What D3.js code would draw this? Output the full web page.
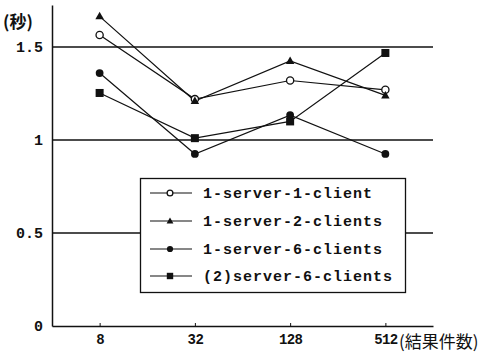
<!DOCTYPE html>
<html>
<head>
<meta charset="utf-8">
<script src="https://cdn.jsdelivr.net/npm/d3@7/dist/d3.min.js"></script>
<style>
  html, body { margin: 0; padding: 0; background: #fff; }
  svg { display: block; }
</style>
</head>
<body>
<div id="chart"></div>
<script>
// ---- data ----
const categories = ["8", "32", "128", "512"];
const seriesNames = ["1-server-1-client", "1-server-2-clients", "1-server-6-clients", "(2)server-6-clients"];
const seriesMarkers = ["openCircle", "triangle", "circle", "square"];
const s1 = [1.565, 1.22, 1.32, 1.27];
const s2 = [1.665, 1.21, 1.425, 1.24];
const s3 = [1.36, 0.925, 1.134, 0.925];
const s4 = [1.253, 1.01, 1.10, 1.468];
const seriesValues = [s1, s2, s3, s4];
const yTicks = [0, 0.5, 1, 1.5];
const yTickLabels = ["0", "0.5", "1", "1.5"];
const gridValues = [0.5, 1, 1.5];
const yUnit = "(秒)";
const xUnit = "(結果件数)";

// ---- layout ----
const W = 498, H = 357;
const svg = d3.select("#chart").append("svg").attr("width", W).attr("height", H);
const x = d3.scalePoint().domain(categories).range([52, 433]).padding(0.5);
const y = d3.scaleLinear().domain([0, 1.726]).range([326, 5]);
const mono = "'Liberation Mono', 'DejaVu Sans Mono', monospace";
const cjk = "'Noto Sans CJK JP', 'Noto Sans CJK SC', sans-serif";

// grid lines
svg.append("g").selectAll("line").data(gridValues).join("line")
  .attr("x1", 52).attr("x2", 433)
  .attr("y1", d => y(d)).attr("y2", d => y(d))
  .attr("stroke", "#111").attr("stroke-width", 1.4);

// y axis
const yAxis = d3.axisLeft(y).tickValues(yTicks).tickSize(0).tickPadding(9)
  .tickFormat((d, i) => yTickLabels[i]);
const gy = svg.append("g").attr("transform", "translate(52,0)").call(yAxis);
gy.select(".domain").attr("stroke", "#111").attr("stroke-width", 1.5);
gy.selectAll("text").attr("font-family", mono).attr("font-weight", "bold")
  .attr("font-size", 15).attr("fill", "#111");

// x axis
const xAxis = d3.axisBottom(x).tickSizeInner(-3).tickSizeOuter(0).tickPadding(8);
const gx = svg.append("g").attr("transform", "translate(0,326)").call(xAxis);
gx.select(".domain").attr("stroke", "#111").attr("stroke-width", 1.5);
gx.selectAll(".tick line").attr("stroke", "#111");
gx.selectAll("text").attr("font-family", mono).attr("font-weight", "bold")
  .attr("font-size", 14).attr("letter-spacing", -0.6).attr("fill", "#111");

// unit labels
svg.append("text").attr("x", 399).attr("y", 348)
  .attr("font-family", cjk).attr("font-size", 17).attr("fill", "#111")
  .text(xUnit);
svg.append("text").attr("x", 3).attr("y", 28)
  .attr("font-family", cjk).attr("font-size", 17).attr("font-weight", "bold").attr("fill", "#111")
  .text(yUnit);

// marker drawing
function drawMarker(g, type, cx, cy, scale) {
  const s = scale || 1;
  if (type === "openCircle") {
    g.append("circle").attr("cx", cx).attr("cy", cy).attr("r", 3.6 * s)
      .attr("fill", "#fff").attr("stroke", "#111").attr("stroke-width", 1.3);
  } else if (type === "circle") {
    g.append("circle").attr("cx", cx).attr("cy", cy).attr("r", 3.9 * s).attr("fill", "#111");
  } else if (type === "triangle") {
    const h = 7.5 * s, w = 8.5 * s;
    g.append("path").attr("d", `M${cx},${cy - h * 0.6}L${cx + w / 2},${cy + h * 0.4}L${cx - w / 2},${cy + h * 0.4}Z`)
      .attr("fill", "#111");
  } else if (type === "square") {
    const a = 8 * s;
    g.append("rect").attr("x", cx - a / 2).attr("y", cy - a / 2).attr("width", a).attr("height", a).attr("fill", "#111");
  }
}

// series lines + markers
const line = d3.line().x((d, i) => x(categories[i])).y(d => y(d));
seriesValues.forEach((vals, k) => {
  svg.append("path").datum(vals).attr("d", line)
    .attr("fill", "none").attr("stroke", "#111").attr("stroke-width", 1.2);
});
seriesValues.forEach((vals, k) => {
  const g = svg.append("g");
  vals.forEach((v, i) => drawMarker(g, seriesMarkers[k], x(categories[i]), y(v), 1));
});

// legend
const lg = svg.append("g");
lg.append("rect").attr("x", 140.5).attr("y", 178.5).attr("width", 265).attr("height", 114)
  .attr("fill", "#fff").attr("stroke", "#111").attr("stroke-width", 1.3);
const rowY = [193, 221, 249, 276];
seriesNames.forEach((name, k) => {
  const yy = rowY[k];
  lg.append("line").attr("x1", 150).attr("x2", 192).attr("y1", yy).attr("y2", yy)
    .attr("stroke", "#111").attr("stroke-width", 1.2);
  drawMarker(lg, seriesMarkers[k], 170, yy, 0.8);
  lg.append("text").attr("x", 203).attr("y", yy + 5)
    .attr("font-family", mono).attr("font-weight", "bold").attr("font-size", 15)
    .attr("letter-spacing", 1).attr("fill", "#111").text(name);
});
</script>
</body>
</html>
